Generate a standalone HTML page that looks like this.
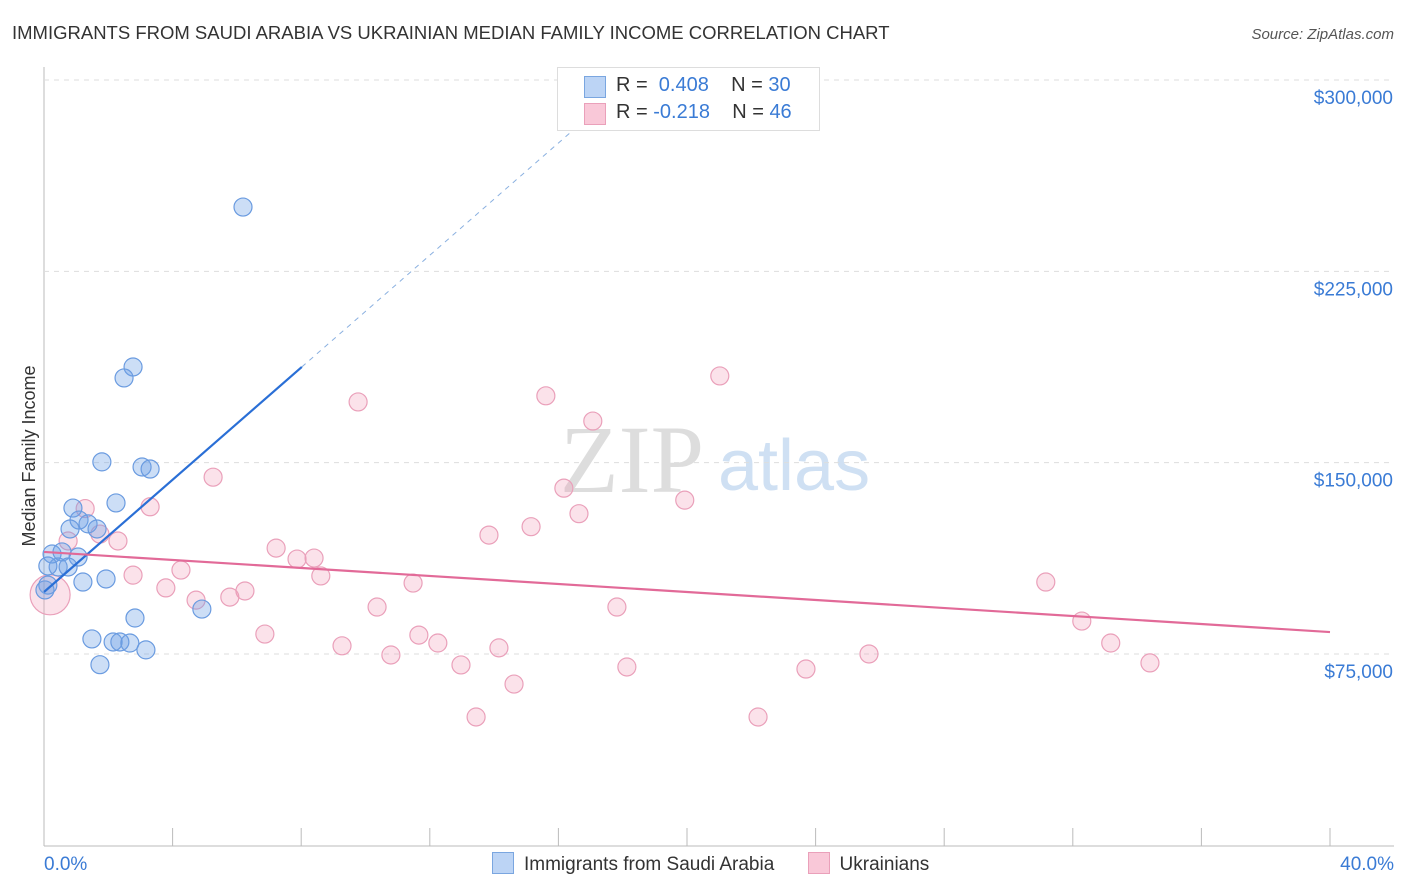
<!DOCTYPE html>
<html><head><meta charset="utf-8">
<style>
body{margin:0;background:#fff;font-family:"Liberation Sans",Arial,sans-serif;}
#wrap{position:relative;width:1406px;height:892px;overflow:hidden;}
</style></head>
<body>
<div id="wrap">
<svg id="chart" width="1406" height="892">
<text x="12" y="39" font-size="18.5" fill="#333">IMMIGRANTS FROM SAUDI ARABIA VS UKRAINIAN MEDIAN FAMILY INCOME CORRELATION CHART</text>
<text x="1394" y="39" font-size="15" fill="#555" font-style="italic" text-anchor="end">Source: ZipAtlas.com</text>
<text x="35" y="456" font-size="18" fill="#333" text-anchor="middle" transform="rotate(-90 35 456)">Median Family Income</text>
<text x="560" y="492" font-size="96" fill="#ddd" font-family="Liberation Serif,serif">ZIP</text>
<text x="718" y="490" font-size="72" fill="#cfe0f3">atlas</text>
<g id="grid"></g><g id="marks"></g>
</svg>
</div>
<script>
const xTickLabels=["0.0%","40.0%"];
const yTicks=[75,150,225,300];
const yTickLabels=["$75,000","$150,000","$225,000","$300,000"];
const blueX=[6.19,2.77,2.49,1.80,3.05,3.30,0.90,2.24,1.09,1.37,1.65,0.81,0.25,0.56,1.06,0.44,0.75,0.12,1.21,1.93,2.83,4.91,1.49,2.15,2.36,2.67,3.17,1.74,0.12,0.03];
const blueY=[250.2,187.5,183.2,150.3,148.3,147.5,132.2,134.2,127.5,126.0,124.0,124.0,114.2,115.0,113.0,109.1,109.1,102.0,103.2,104.4,89.1,92.6,80.9,79.7,79.7,79.3,76.6,70.8,109.5,100.1];
const pinkX=[21.02,15.61,9.77,17.07,5.26,16.17,19.93,3.30,1.28,16.64,15.15,13.84,2.30,1.74,0.75,7.22,7.87,8.40,2.77,4.26,8.61,31.16,11.48,3.79,6.25,5.78,4.73,10.36,17.82,6.87,11.66,32.28,12.25,33.18,9.27,10.79,14.15,25.66,12.97,18.13,23.70,34.40,14.62,13.44,22.21,0.19];
const pinkY=[184.0,176.2,173.8,166.3,144.3,140.0,135.3,132.7,132.0,130.0,124.9,121.6,119.3,122.0,119.3,116.5,112.2,112.6,105.9,107.9,105.6,103.2,102.8,100.9,99.7,97.3,96.1,93.4,93.4,82.8,82.4,87.9,79.3,79.3,78.2,74.6,77.4,75.0,70.7,69.9,69.1,71.5,63.2,50.3,50.3,98.2];
const blueTrend=[99.3,11.0];   // intercept, slope per %
const pinkTrend=[115.0,-0.785];
const NS="http://www.w3.org/2000/svg";
const X=v=>44+v/40*1286;
const Y=v=>845.3-v*2.551;
const grid=document.getElementById('grid'),marks=document.getElementById('marks');
function mk(tag,attrs,parent){const e=document.createElementNS(NS,tag);for(const k in attrs)e.setAttribute(k,attrs[k]);parent.appendChild(e);return e;}
let ax=mk('line',{x1:44,y1:67,x2:44,y2:846,stroke:'#bbb'},grid);


let bx=mk('line',{x1:44,y1:846,x2:1394,y2:846,stroke:'#bbb'},grid);


yTicks.forEach((t,i)=>{
  let l=mk('line',{x1:44,y1:Y(t),x2:1394,y2:Y(t),stroke:'#ddd','stroke-dasharray':'5,5'},grid);
  
  
  let tx=mk('text',{x:1393,y:Y(t)+24,'font-size':19,fill:'#3a7bd5','text-anchor':'end'},grid);
  tx.textContent=yTickLabels[i];
  
  
});
for(let p=0;p<=40;p+=4){
  let l=mk('line',{x1:X(p),y1:828,x2:X(p),y2:846,stroke:'#bbb'},grid);
  
  
}
[[0,'start',44],[40,'end',1394]].forEach((d,i)=>{
  let t=mk('text',{x:d[2],y:870,'font-size':19,fill:'#3a7bd5','text-anchor':d[1]},grid);
  t.textContent=xTickLabels[i];
  
  
});
pinkX.forEach((x,i)=>{
  let c=mk('circle',{cx:X(x),cy:Y(pinkY[i]),r:i===pinkX.length-1?20:9,fill:'rgba(240,150,180,0.28)',stroke:'#eaa0ba','stroke-width':1.2},marks);
  
  
});
blueX.forEach((x,i)=>{
  let c=mk('circle',{cx:X(x),cy:Y(blueY[i]),r:9,fill:'rgba(110,160,230,0.35)',stroke:'#6a9be0','stroke-width':1.2},marks);
  
  
});
let bl=mk('line',{x1:X(0),y1:Y(blueTrend[0]),x2:X(8.02),y2:Y(blueTrend[0]+blueTrend[1]*8.02),stroke:'#2a6fd6','stroke-width':2.2},marks);


let bd=mk('line',{x1:X(8.02),y1:Y(blueTrend[0]+blueTrend[1]*8.02),x2:X(17),y2:Y(blueTrend[0]+blueTrend[1]*17),stroke:'#8ab0e0','stroke-width':1,'stroke-dasharray':'5,5'},marks);


let pl=mk('line',{x1:X(0),y1:Y(pinkTrend[0]),x2:X(40),y2:Y(pinkTrend[0]+pinkTrend[1]*40),stroke:'#e26a98','stroke-width':2.2},marks);


</script>
<div style="position:absolute;left:557px;top:67px;width:261px;height:62px;border:1px solid #ddd;background:#fff;font-size:20px;color:#333;">
 <div style="position:absolute;left:26px;top:8px;width:20px;height:20px;background:#bcd4f5;border:1px solid #7aa6e0"></div>
 <div style="position:absolute;left:58px;top:6px;white-space:pre">R =  <span style="color:#3a7bd5">0.408</span>    N = <span style="color:#3a7bd5">30</span></div>
 <div style="position:absolute;left:26px;top:35px;width:20px;height:20px;background:#f9c8d8;border:1px solid #eaa0ba"></div>
 <div style="position:absolute;left:58px;top:33px;white-space:pre">R = <span style="color:#3a7bd5">-0.218</span>    N = <span style="color:#3a7bd5">46</span></div>
</div>
<div style="position:absolute;left:492px;top:852px;font-size:19px;color:#333;white-space:nowrap;">
 <span><span style="display:inline-block;width:20px;height:20px;background:#bcd4f5;border:1px solid #7aa6e0;vertical-align:-4px;margin-right:10px"></span>Immigrants from Saudi Arabia</span>
 <span style="margin-left:28px"><span style="display:inline-block;width:20px;height:20px;background:#f9c8d8;border:1px solid #eaa0ba;vertical-align:-4px;margin-right:10px"></span>Ukrainians</span>
</div>
</body></html>
